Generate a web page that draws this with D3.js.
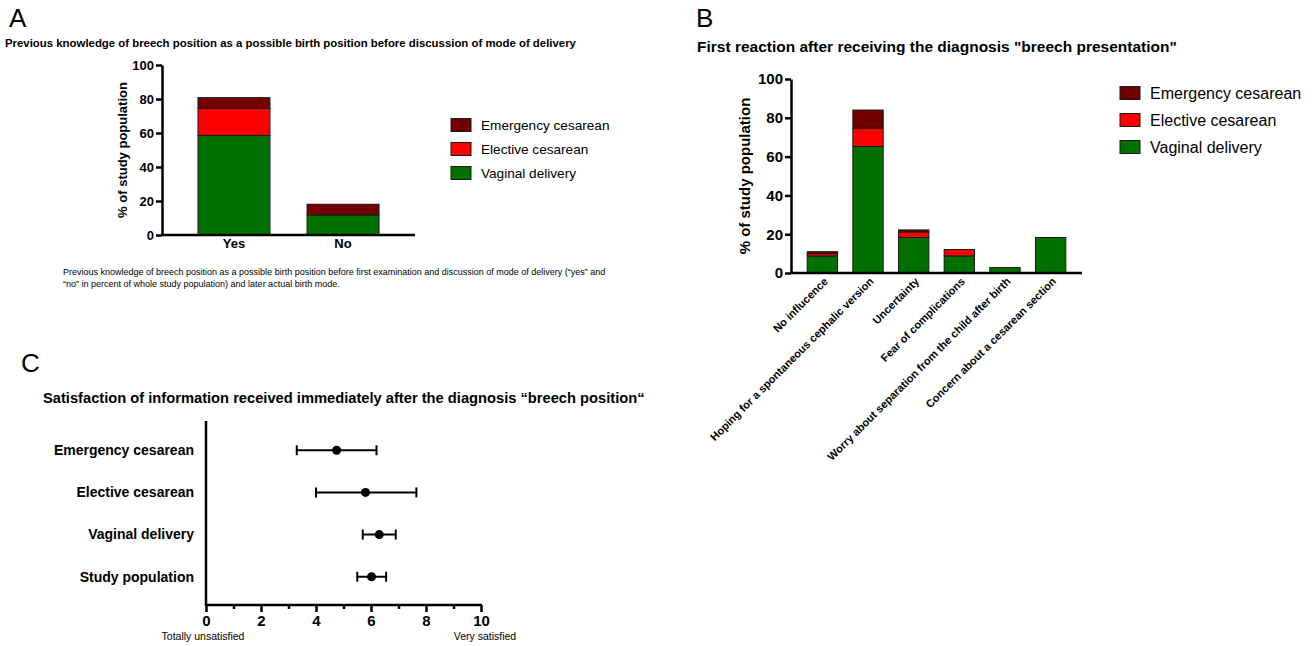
<!DOCTYPE html>
<html>
<head>
<meta charset="utf-8">
<script src="https://cdn.jsdelivr.net/npm/d3@7"></script>
<style>
  body { margin: 0; background: #fff; }
  svg { display: block; font-family: 'Liberation Sans', Arial, sans-serif; }
</style>
</head>
<body>
<svg></svg>
<script>
// data
let seriesNames = ['Vaginal delivery', 'Elective cesarean', 'Emergency cesarean']
let seriesColors = ['#007000', '#ff0000', '#720000']

let catA = ['Yes', 'No']
let vaginalA = [58.6, 11.8]
let electiveA = [15.9, 0]
let emergencyA = [6.3, 6.3]

let catB = ['No influcence', 'Hoping for a spontaneous cephalic version', 'Uncertainty',
  'Fear of complications', 'Worry about separation from the child after birth',
  'Concern about a cesarean section']
let vaginalB = [8.8, 65.2, 18.3, 8.8, 2.8, 18.3]
let electiveB = [1.2, 9.5, 2.9, 3.3, 0, 0]
let emergencyB = [1.0, 9.3, 1.0, 0, 0, 0]

let yTicks = [0, 20, 40, 60, 80, 100]

let catC = ['Emergency cesarean', 'Elective cesarean', 'Vaginal delivery', 'Study population']
let meanC = [4.75, 5.8, 6.3, 6.02]
let lowC = [3.3, 4.0, 5.7, 5.5]
let highC = [6.2, 7.65, 6.9, 6.55]
let xTicksC = [0, 1, 2, 3, 4, 5, 6, 7, 8, 9, 10]

let width = 1314
let height = 646

let svg = d3.select('svg').attr('width', width).attr('height', height)

// thick black axis look
let styleAxis = (g, fontSize) => {
  g.select('.domain').attr('stroke', '#000').attr('stroke-width', 2.5)
  g.selectAll('.tick line').attr('stroke', '#000').attr('stroke-width', 2.5)
  g.selectAll('.tick text').attr('fill', '#000').style('font-weight', 'bold')
    .style('font-size', fontSize + 'px').style('font-family', "'Liberation Sans', Arial, sans-serif")
}

let drawStacked = (o) => {
  let rows = o.cats.map((c, i) => ({ cat: c, v: o.vag[i], e: o.ele[i], m: o.emg[i] }))
  let stack = d3.stack().keys(['v', 'e', 'm'])(rows)

  let x = d3.scaleBand().domain(o.cats).range([o.x0, o.x1])
    .paddingInner(o.pIn).paddingOuter(o.pOut)
  let y = d3.scaleLinear().domain([0, 100]).range([o.y0, o.y1])

  let layers = svg.append('g').selectAll('g').data(stack).enter().append('g')
    .attr('fill', (d, i) => seriesColors[i])
  layers.selectAll('rect')
    .data(d => d.filter(s => s[1] - s[0] > 0))
    .enter().append('rect')
    .attr('x', d => x(d.data.cat))
    .attr('width', x.bandwidth())
    .attr('y', d => y(d[1]))
    .attr('height', d => y(d[0]) - y(d[1]))
    .attr('stroke', '#1a1a1a').attr('stroke-width', 1)

  let yAxis = svg.append('g').attr('transform', 'translate(' + o.x0 + ',0)')
    .call(d3.axisLeft(y).tickValues(yTicks).tickSize(6).tickSizeOuter(0).tickPadding(2))
  styleAxis(yAxis, o.tickFont)

  let xAxis = svg.append('g').attr('transform', 'translate(0,' + o.y0 + ')')
    .call(d3.axisBottom(x).tickSize(0).tickSizeOuter(0).tickPadding(o.xPad))
  xAxis.select('.domain').attr('d', 'M' + (o.x0 - 1) + ',0H' + o.x1)
  styleAxis(xAxis, o.xFont)
  if (o.rotate) {
    xAxis.selectAll('.tick text')
      .attr('text-anchor', 'end')
      .attr('transform', 'rotate(-45)')
      .attr('x', -2).attr('y', 7).attr('dy', '0.35em')
  }

  svg.append('text')
    .attr('transform', 'translate(' + o.labelX + ',' + ((o.y0 + o.y1) / 2) + ') rotate(-90)')
    .attr('text-anchor', 'middle').attr('dy', '0.35em')
    .style('font-weight', 'bold').style('font-size', o.labelFont + 'px')
    .text('% of study population')

  // legend, top entry first
  let leg = svg.append('g')
  let order = [2, 1, 0]
  order.forEach((k, i) => {
    let cy = o.legY + i * o.legStep
    leg.append('rect').attr('x', o.legX).attr('y', cy - 6.5).attr('width', 20).attr('height', 13)
      .attr('fill', seriesColors[k]).attr('stroke', '#1a1a1a').attr('stroke-width', 1)
    leg.append('text').attr('x', o.legX + 30).attr('y', cy).attr('dy', '0.35em')
      .style('font-size', o.legFont + 'px').text(seriesNames[k])
  })
}

// panel letters and titles
let panelText = (x, y, txt, size, weight) => {
  svg.append('text').attr('x', x).attr('y', y).style('font-size', size + 'px')
    .style('font-weight', weight).text(txt)
}
panelText(9, 27, 'A', 26, 'normal')
panelText(696, 27, 'B', 26, 'normal')
panelText(21, 372, 'C', 26, 'normal')
panelText(5, 47, 'Previous knowledge of breech position as a possible birth position before discussion of mode of delivery', 11.4, 'bold')
panelText(697, 52, 'First reaction after receiving the diagnosis "breech presentation"', 15.5, 'bold')
panelText(43, 403, 'Satisfaction of information received immediately after the diagnosis \u201cbreech position\u201c', 14.7, 'bold')

// panel A
drawStacked({
  cats: catA, vag: vaginalA, ele: electiveA, emg: emergencyA,
  x0: 162, x1: 415, y0: 235, y1: 65, pIn: 0.34, pOut: 0.33,
  tickFont: 13, xFont: 13, xPad: 4, rotate: false,
  labelX: 122, labelFont: 13,
  legX: 451, legY: 125, legStep: 24, legFont: 13.6
})
svg.append('text').attr('x', 63).attr('y', 275).style('font-size', '9px')
  .text('Previous knowledge of breech position as a possible birth position before first examination and discussion of mode of delivery (\u201cyes\u201d and')
svg.append('text').attr('x', 63).attr('y', 287).style('font-size', '9px')
  .text('\u201cno\u201d in percent of whole study population) and later actual birth mode.')

// panel B
drawStacked({
  cats: catB, vag: vaginalB, ele: electiveB, emg: emergencyB,
  x0: 791, x1: 1082, y0: 273, y1: 79, pIn: 0.335, pOut: 0.355,
  tickFont: 15, xFont: 11, xPad: 0, rotate: true,
  labelX: 745, labelFont: 15,
  legX: 1120, legY: 93, legStep: 27, legFont: 16
})

// panel C
let xC = d3.scaleLinear().domain([0, 10]).range([206, 481])
let yC = d3.scalePoint().domain(catC).range([422, 605]).padding(0.67)

let axC = svg.append('g').attr('transform', 'translate(0,605)')
  .call(d3.axisBottom(xC).tickValues(xTicksC).tickSize(7).tickSizeOuter(0).tickPadding(3)
    .tickFormat(d => d % 2 === 0 ? d : ''))
styleAxis(axC, 15)
axC.select('.domain').attr('d', 'M205,0H482')
axC.selectAll('.tick line').attr('y2', d => d % 2 === 0 ? 7 : 4)

svg.append('line').attr('x1', xC(0)).attr('x2', xC(0)).attr('y1', 421).attr('y2', 606)
  .attr('stroke', '#000').attr('stroke-width', 2.5)

svg.append('g').selectAll('text').data(catC).enter().append('text')
  .attr('x', 194).attr('y', d => yC(d)).attr('dy', '0.35em').attr('text-anchor', 'end')
  .style('font-weight', 'bold').style('font-size', '14px').text(d => d)

let errs = svg.append('g').selectAll('g').data(catC).enter().append('g')
errs.append('line').attr('x1', (d, i) => xC(lowC[i])).attr('x2', (d, i) => xC(highC[i]))
  .attr('y1', d => yC(d)).attr('y2', d => yC(d)).attr('stroke', '#000').attr('stroke-width', 2)
errs.append('line').attr('x1', (d, i) => xC(lowC[i])).attr('x2', (d, i) => xC(lowC[i]))
  .attr('y1', d => yC(d) - 5).attr('y2', d => yC(d) + 5).attr('stroke', '#000').attr('stroke-width', 2)
errs.append('line').attr('x1', (d, i) => xC(highC[i])).attr('x2', (d, i) => xC(highC[i]))
  .attr('y1', d => yC(d) - 5).attr('y2', d => yC(d) + 5).attr('stroke', '#000').attr('stroke-width', 2)
errs.append('circle').attr('cx', (d, i) => xC(meanC[i])).attr('cy', d => yC(d)).attr('r', 4.5)
  .attr('fill', '#000')

svg.append('text').attr('x', 203).attr('y', 640).attr('text-anchor', 'middle')
  .style('font-size', '10.5px').text('Totally unsatisfied')
svg.append('text').attr('x', 485).attr('y', 640).attr('text-anchor', 'middle')
  .style('font-size', '10.5px').text('Very satisfied')
</script>
</body>
</html>
